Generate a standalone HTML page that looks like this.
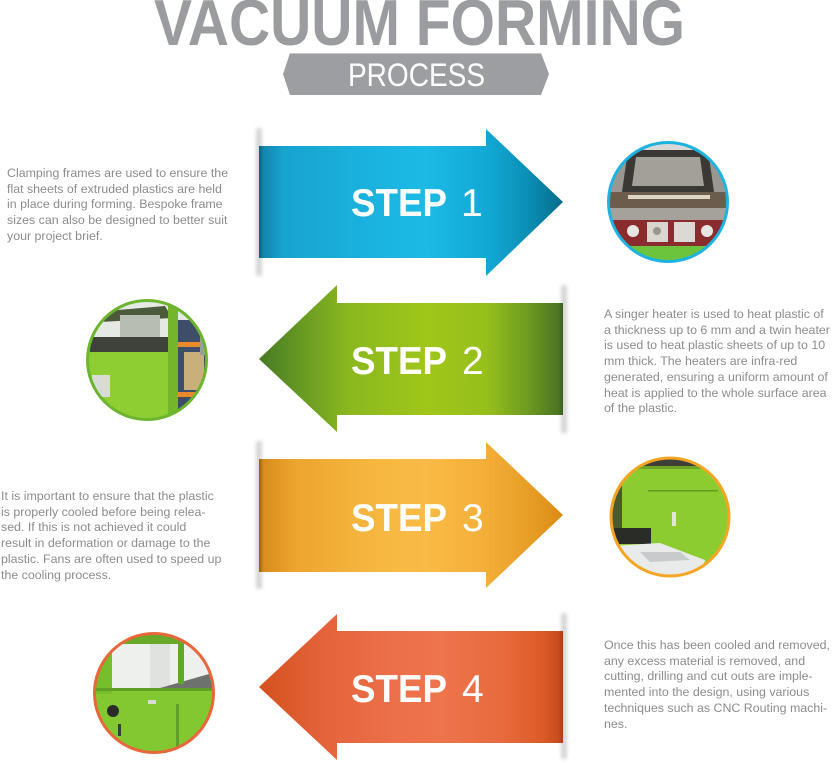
<!DOCTYPE html>
<html>
<head>
<meta charset="utf-8">
<style>
html,body{margin:0;padding:0;background:#fff;}
body{width:832px;height:763px;position:relative;overflow:hidden;font-family:"Liberation Sans",Arial,sans-serif;}
svg{position:absolute;left:0;top:0;}
.p{position:absolute;font-size:12.4px;line-height:15.7px;color:#8c8c8c;white-space:nowrap;}
</style>
</head>
<body>
<svg width="832" height="763" viewBox="0 0 832 763" xmlns="http://www.w3.org/2000/svg">
<defs>
  <linearGradient id="gb" gradientUnits="userSpaceOnUse" x1="259" y1="0" x2="563" y2="0">
    <stop offset="0" stop-color="#09607c"/>
    <stop offset="0.015" stop-color="#1287ae"/>
    <stop offset="0.08" stop-color="#18a3cf"/>
    <stop offset="0.3" stop-color="#1aafdc"/>
    <stop offset="0.55" stop-color="#1dbae6"/>
    <stop offset="0.75" stop-color="#12a8d5"/>
    <stop offset="0.88" stop-color="#0b90b6"/>
    <stop offset="1" stop-color="#056c8b"/>
  </linearGradient>
  <linearGradient id="gg" gradientUnits="userSpaceOnUse" x1="259" y1="0" x2="563" y2="0">
    <stop offset="0" stop-color="#467a24"/>
    <stop offset="0.15" stop-color="#6a9c22"/>
    <stop offset="0.3" stop-color="#8ab81e"/>
    <stop offset="0.55" stop-color="#a0c61a"/>
    <stop offset="0.75" stop-color="#96bf1b"/>
    <stop offset="0.88" stop-color="#6f9c21"/>
    <stop offset="0.985" stop-color="#4c7623"/>
    <stop offset="1" stop-color="#3b5e1d"/>
  </linearGradient>
  <linearGradient id="go" gradientUnits="userSpaceOnUse" x1="259" y1="0" x2="563" y2="0">
    <stop offset="0" stop-color="#94600f"/>
    <stop offset="0.015" stop-color="#d98c1c"/>
    <stop offset="0.12" stop-color="#eda52f"/>
    <stop offset="0.4" stop-color="#f6b841"/>
    <stop offset="0.55" stop-color="#f9bb46"/>
    <stop offset="0.75" stop-color="#f3ae38"/>
    <stop offset="0.9" stop-color="#e69c25"/>
    <stop offset="1" stop-color="#dc8a14"/>
  </linearGradient>
  <linearGradient id="gr" gradientUnits="userSpaceOnUse" x1="259" y1="0" x2="563" y2="0">
    <stop offset="0" stop-color="#d2511c"/>
    <stop offset="0.2" stop-color="#e4623a"/>
    <stop offset="0.45" stop-color="#ec7049"/>
    <stop offset="0.6" stop-color="#ee744c"/>
    <stop offset="0.8" stop-color="#e86a3e"/>
    <stop offset="0.93" stop-color="#dc5b28"/>
    <stop offset="0.985" stop-color="#c84c1d"/>
    <stop offset="1" stop-color="#a53e18"/>
  </linearGradient>
  <filter id="bl" x="-2" y="-0.2" width="5" height="1.4"><feGaussianBlur stdDeviation="1.8"/></filter>
  <clipPath id="c1"><circle cx="668" cy="202" r="58.5"/></clipPath>
  <clipPath id="c2"><circle cx="147" cy="360" r="58.5"/></clipPath>
  <clipPath id="c3"><circle cx="670" cy="517" r="58"/></clipPath>
  <clipPath id="c4"><circle cx="154" cy="693" r="58.5"/></clipPath>
</defs>

<!-- Title -->
<text x="154" y="45" font-family="Liberation Sans, Arial, sans-serif" font-weight="bold" font-size="65" fill="#9b9c9f" textLength="531" lengthAdjust="spacingAndGlyphs">VACUUM FORMING</text>
<polygon points="283,74 290,53 541,53 549,74 541,95 290,95" fill="#9d9ea1"/>
<line x1="290" y1="53.5" x2="541" y2="53.5" stroke="#c4c5c7" stroke-width="1"/>
<text x="348" y="86" font-family="Liberation Sans, Arial, sans-serif" font-size="32" fill="#ffffff" textLength="137" lengthAdjust="spacingAndGlyphs">PROCESS</text>

<!-- shadows -->
<rect x="256" y="128" width="6" height="148" fill="#9a9a9a" opacity="0.4" filter="url(#bl)"/>
<rect x="561" y="285" width="6" height="148" fill="#9a9a9a" opacity="0.4" filter="url(#bl)"/>
<rect x="256" y="441" width="6" height="148" fill="#9a9a9a" opacity="0.4" filter="url(#bl)"/>
<rect x="561" y="613" width="6" height="146" fill="#9a9a9a" opacity="0.4" filter="url(#bl)"/>

<!-- Arrows -->
<polygon points="259,146 486,146 486,129 563,202 486,276 486,258 259,258" fill="url(#gb)"/>
<polygon points="563,303 337,303 337,285 259,359 337,432 337,415 563,415" fill="url(#gg)"/>
<polygon points="259,459 486,459 486,442 563,515 486,588 486,572 259,572" fill="url(#go)"/>
<polygon points="563,631 337,631 337,614 259,687 337,760 337,743 563,743" fill="url(#gr)"/>

<!-- Step labels -->
<g font-family="Liberation Sans, Arial, sans-serif" font-size="39" fill="#ffffff">
  <text x="351" y="216" font-weight="bold" textLength="96" lengthAdjust="spacingAndGlyphs">STEP</text>
  <text x="461" y="216">1</text>
  <text x="351" y="374" font-weight="bold" textLength="96" lengthAdjust="spacingAndGlyphs">STEP</text>
  <text x="462" y="374">2</text>
  <text x="351" y="531" font-weight="bold" textLength="96" lengthAdjust="spacingAndGlyphs">STEP</text>
  <text x="462" y="531">3</text>
  <text x="351" y="702" font-weight="bold" textLength="96" lengthAdjust="spacingAndGlyphs">STEP</text>
  <text x="462" y="702">4</text>
</g>

<!-- Circle 1 -->
<g clip-path="url(#c1)">
  <rect x="606" y="140" width="124" height="124" fill="#9a9792"/>
  <rect x="606" y="140" width="124" height="14" fill="#d8d8d5"/>
  <polygon points="628,150 708,150 714,192 622,192" fill="#3a3936"/>
  <polygon points="636,157 700,157 704,186 632,186" fill="#a3a09a"/>
  <rect x="606" y="192" width="124" height="18" fill="#6b5c4c"/>
  <rect x="628" y="195" width="82" height="4" fill="#ddd6c4"/>
  <rect x="606" y="208" width="124" height="12" fill="#a5a29c"/>
  <rect x="606" y="220" width="124" height="26" fill="#8a2b2d"/>
  <circle cx="633" cy="231" r="6" fill="#e8e6e2"/>
  <rect x="647" y="222" width="21" height="20" fill="#d9d5cf"/>
  <circle cx="657" cy="231" r="4" fill="#9a9690"/>
  <rect x="674" y="222" width="21" height="20" fill="#dcd9d4"/>
  <circle cx="707" cy="231" r="6" fill="#e8e6e2"/>
  <rect x="606" y="246" width="124" height="18" fill="#6cc43c"/>
</g>
<circle cx="668" cy="202" r="59.5" fill="none" stroke="#1db3e0" stroke-width="3"/>

<!-- Circle 2 -->
<g clip-path="url(#c2)">
  <rect x="86" y="299" width="124" height="124" fill="#8fcf31"/>
  <rect x="86" y="299" width="124" height="40" fill="#e6e8e4"/>
  <polygon points="95,312 165,306 172,318 100,322" fill="#4a5a3a"/>
  <rect x="120" y="315" width="40" height="25" fill="#b7bdb2"/>
  <rect x="90" y="337" width="80" height="15" fill="#3f423a"/>
  <rect x="86" y="352" width="86" height="70" fill="#8fce33"/>
  <rect x="92" y="375" width="18" height="22" fill="#d8dcd5"/>
  <rect x="168" y="299" width="10" height="124" fill="#74b52c"/>
  <rect x="178" y="320" width="32" height="100" fill="#3e4e68"/>
  <rect x="178" y="342" width="32" height="5" fill="#e88a2a"/>
  <rect x="178" y="392" width="32" height="5" fill="#e88a2a"/>
  <rect x="184" y="352" width="20" height="38" fill="#c9b07a"/>
  <rect x="200" y="315" width="10" height="40" fill="#9a9e9a"/>
</g>
<circle cx="147" cy="360" r="59.5" fill="none" stroke="#6cb52e" stroke-width="3"/>

<!-- Circle 3 -->
<g clip-path="url(#c3)">
  <rect x="610" y="457" width="122" height="122" fill="#8dcc30"/>
  <rect x="610" y="457" width="122" height="9" fill="#3d3f38"/>
  <rect x="610" y="466" width="122" height="3" fill="#6ea528"/>
  <rect x="610" y="457" width="12" height="85" fill="#4a5a30"/>
  <rect x="648" y="490" width="70" height="1.5" fill="#5f9a22"/>
  <rect x="672" y="512" width="4" height="14" fill="#dfe5d8"/>
  <rect x="611" y="528" width="40" height="16" fill="#2a2c28"/>
  <polygon points="610,546 660,543 705,560 700,580 610,580" fill="#e9eaea"/>
  <polygon points="640,552 680,552 690,560 650,562" fill="#c8cacb"/>
</g>
<circle cx="670" cy="517" r="59" fill="none" stroke="#f4a623" stroke-width="3"/>

<!-- Circle 4 -->
<g clip-path="url(#c4)">
  <rect x="94" y="633" width="122" height="122" fill="#82c931"/>
  <rect x="94" y="633" width="122" height="11" fill="#6aa82a"/>
  <rect x="112" y="644" width="104" height="44" fill="#eef0ee"/>
  <rect x="150" y="644" width="20" height="44" fill="#dfe2df"/>
  <polygon points="160,688 216,672 216,688" fill="#6e726e"/>
  <rect x="178" y="644" width="6" height="40" fill="#5fa82a"/>
  <rect x="94" y="644" width="18" height="50" fill="#76be2c"/>
  <rect x="94" y="688" width="122" height="3" fill="#5f9f26"/>
  <circle cx="113" cy="711" r="6" fill="#2a2c28"/>
  <rect x="118" y="724" width="3" height="12" fill="#3a3c36"/>
  <rect x="148" y="700" width="8" height="4" fill="#d8dcd6"/>
  <rect x="176" y="704" width="3" height="50" fill="#5fa02a"/>
</g>
<circle cx="154" cy="693" r="59.5" fill="none" stroke="#e8673a" stroke-width="3"/>
</svg>

<div class="p" style="left:7px;top:166px;">Clamping frames are used to ensure the<br>flat sheets of extruded plastics are held<br>in place during forming. Bespoke frame<br>sizes can also be designed to better suit<br>your project brief.</div>

<div class="p" style="left:604px;top:307px;">A singer heater is used to heat plastic of<br>a thickness up to 6 mm and a twin heater<br>is used to heat plastic sheets of up to 10<br>mm thick. The heaters are infra-red<br>generated, ensuring a uniform amount of<br>heat is applied to the whole surface area<br>of the plastic.</div>

<div class="p" style="left:1px;top:489px;">It is important to ensure that the plastic<br>is properly cooled before being relea-<br>sed. If this is not achieved it could<br>result in deformation or damage to the<br>plastic. Fans are often used to speed up<br>the cooling process.</div>

<div class="p" style="left:604px;top:638px;">Once this has been cooled and removed,<br>any excess material is removed, and<br>cutting, drilling and cut outs are imple-<br>mented into the design, using various<br>techniques such as CNC Routing machi-<br>nes.</div>
</body>
</html>
